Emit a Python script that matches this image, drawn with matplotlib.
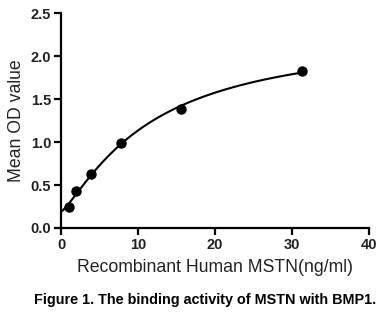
import numpy as np
import matplotlib
matplotlib.use("Agg")
import matplotlib.pyplot as plt

plt.rcParams['font.family'] = ['Liberation Sans', 'DejaVu Sans']

conc = [0.98, 1.95, 3.9, 7.8, 15.6, 31.25]
od = [0.24, 0.43, 0.63, 0.99, 1.38, 1.83]

# four-parameter logistic fit: grid over c and b, least squares for a, d
x = np.array(conc)
y = np.array(od)
best = None
for b in np.linspace(1.25, 2.0, 31):
    for c in np.linspace(2, 80, 300):
        g = 1 / (1 + (x / c) ** b)
        A = np.column_stack([g, 1 - g])
        coef, _, _, _ = np.linalg.lstsq(A, y, rcond=None)
        err = np.sum((A @ coef - y) ** 2)
        if best is None or err < best[0]:
            best = (err, b, c, coef)
_, b, c, (a, d) = best
xf = np.linspace(0, max(conc), 300)
gf = 1 / (1 + (xf / c) ** b)
yf = a * gf + d * (1 - gf)

fig = plt.figure(figsize=(3.89, 3.29), dpi=100)
ax = fig.add_axes([0.157, 0.307, 0.792, 0.653])
ax.plot(xf, yf, color='black', lw=1.5)
ax.plot(conc, od, 'o', color='black', ms=6.5, clip_on=False)

ax.set_xlim(0, 40)
ax.set_ylim(0, 2.5)
ax.set_xticks([0, 10, 20, 30, 40])
ax.set_yticks([0, 0.5, 1.0, 1.5, 2.0, 2.5])
ax.set_yticklabels(['0.0', '0.5', '1.0', '1.5', '2.0', '2.5'])
for s in ['top', 'right']:
    ax.spines[s].set_visible(False)
for s in ['left', 'bottom']:
    ax.spines[s].set_linewidth(1.6)
ax.tick_params(width=1.6, length=5, labelsize=10.5, pad=2)
for lab in ax.get_xticklabels() + ax.get_yticklabels():
    lab.set_fontweight('bold')
    lab.set_color('#222222')

ax.set_xlabel('Recombinant Human MSTN(ng/ml)', fontsize=12.7, color='#222222', labelpad=5)
ax.set_ylabel('Mean OD value', fontsize=12.7, color='#222222', labelpad=4)

fig.text(0.527, 0.088, 'Figure 1. The binding activity of MSTN with BMP1.',
         ha='center', va='center', fontsize=10.4, fontweight='bold')

fig.savefig('out.png', dpi=100)
